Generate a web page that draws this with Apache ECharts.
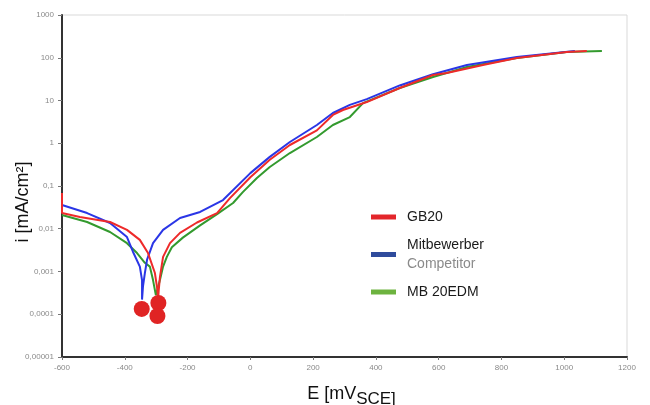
<!DOCTYPE html>
<html>
<head>
<meta charset="utf-8">
<script src="https://cdn.jsdelivr.net/npm/echarts@6/dist/echarts.min.js"></script>
<style>html,body{margin:0;padding:0;background:#fff}#c{width:650px;height:405px}</style>
</head>
<body>
<div id="c"></div>
<script>
// Tick labels
const yTickLabels = ['0,00001','0,0001','0,001','0,01','0,1','1','10','100','1000'];
const xTickLabels = ['-600','-400','-200','0','200','400','600','800','1000','1200'];

// Series: [E (mV), i (mA/cm²)]
const gb20 = [
  [-600,0.0686],[-600,0.0233],[-543,0.0188],[-447,0.0144],[-393,0.0094],[-352,0.0055],
  [-326,0.0027],[-304,0.00092],[-296,0.00037],[-294,0.00022],[-292,0.00035],[-288,0.00074],
  [-278,0.0022],[-256,0.0046],[-224,0.0080],[-170,0.0140],[-106,0.0233],[-65,0.052],
  [0,0.16],[62,0.41],[126,0.91],[212,2.0],[263,4.6],[295,6.0],[371,9.2],[476,19.6],
  [582,39.5],[626,44],[741,67.6],[849,98.6],[1008,136],[1072,144]
];
const mitbewerber = [
  [-600,0.036],[-520,0.0233],[-447,0.0136],[-393,0.0064],[-374,0.0029],[-352,0.0013],
  [-345,0.00063],[-345,0.00022],[-342,0.00045],[-336,0.00092],[-329,0.0019],[-310,0.0046],
  [-278,0.0094],[-224,0.0178],[-160,0.0247],[-87,0.047],[0,0.2],[62,0.48],[126,1.07],
  [212,2.67],[263,5.1],[317,7.9],[371,10.8],[476,22.5],[582,41],[690,67.6],[849,104],[1034,144]
];
const mb20edm = [
  [-600,0.021],[-520,0.0144],[-447,0.0084],[-393,0.0046],[-361,0.0027],[-336,0.0016],
  [-320,0.0013],[-310,0.00063],[-301,0.00028],[-288,0.00063],[-278,0.0013],[-266,0.0022],
  [-250,0.0037],[-215,0.0062],[-160,0.012],[-106,0.022],[-55,0.04],[-24,0.072],[21,0.154],
  [62,0.278],[126,0.59],[212,1.40],[263,2.67],[317,4.1],[359,8.7],[476,19.6],[582,35.5],
  [690,60.8],[849,98.6],[1008,136],[1120,144]
];
// Corrosion-potential markers
const markers = [[-346,0.000133],[-293,0.000183],[-296,0.000091]];
const yTitle = 'i [mA/cm²]';

const FONT = '"Liberation Sans", Arial, Helvetica, sans-serif';
const chart = echarts.init(document.getElementById('c'), null, {renderer:'canvas'});
chart.setOption({
  animation: false,
  backgroundColor: '#fff',
  grid: {left: 62, right: 23, top: 15, bottom: 48, containLabel: false, outerBoundsMode: 'none',
         show: true, borderColor: '#d9d9d9', borderWidth: 1},
  graphic: [{
    type: 'text', x: 23, y: 202, rotation: Math.PI / 2,
    style: {text: yTitle, fontSize: 18, fontFamily: FONT, fill: '#111', align: 'center', verticalAlign: 'middle'}
  }],
  xAxis: {
    type: 'value', min: -600, max: 1200, interval: 200,
    axisLine: {show: true, onZero: false, lineStyle: {color: '#333', width: 2}},
    axisTick: {show: true, length: 3, lineStyle: {color: '#777'}},
    splitLine: {show: false},
    axisLabel: {
      margin: 7, fontSize: 8, color: '#8a8a8a', fontFamily: FONT,
      formatter: v => xTickLabels[Math.round((v + 600) / 200)]
    },
    name: '{a|E [mV}{b|SCE]}',
    nameLocation: 'middle', nameGap: 28,
    nameTextStyle: {
      padding: [0, 0, 0, 14],
      rich: {
        a: {fontSize: 18, color: '#111', fontFamily: FONT, lineHeight: 18},
        b: {fontSize: 17, color: '#111', fontFamily: FONT, lineHeight: 18, padding: [10,0,0,0]}
      }
    }
  },
  yAxis: {
    type: 'log', logBase: 10, min: 0.00001, max: 1000,
    axisLine: {show: true, onZero: false, lineStyle: {color: '#333', width: 2}},
    axisTick: {show: true, length: 4, lineStyle: {color: '#777'}},
    splitLine: {show: false},
    minorTick: {show: false},
    axisLabel: {
      margin: 8, fontSize: 8, color: '#8a8a8a', fontFamily: FONT,
      formatter: v => yTickLabels[Math.round(Math.log10(v)) + 5]
    }
  },
  legend: {
    orient: 'vertical', left: 366, top: 205,
    itemWidth: 25, itemHeight: 5, itemGap: 14, icon: 'rect',
    data: [
      {name: 'GB20', itemStyle: {color: '#e3262b'}},
      {name: 'Mitbewerber', itemStyle: {color: '#2f4b9c'}},
      {name: 'MB 20EDM', itemStyle: {color: '#6db33f'}}
    ],
    formatter: n => n === 'Mitbewerber' ? '{a|Mitbewerber}\n{b|Competitor}' : '{a|' + n + '}',
    textStyle: {
      padding: [0,0,0,6],
      rich: {
        a: {fontSize: 14, color: '#1a1a1a', lineHeight: 19, fontFamily: FONT},
        b: {fontSize: 14, color: '#8a8a8a', lineHeight: 19, fontFamily: FONT}
      }
    }
  },
  series: [
    {name: 'MB 20EDM', type: 'line', data: mb20edm, showSymbol: false, lineStyle: {color: '#339a2e', width: 2}, itemStyle: {color: '#339a2e'}},
    {name: 'Mitbewerber', type: 'line', data: mitbewerber, showSymbol: false, lineStyle: {color: '#2a36e6', width: 2}, itemStyle: {color: '#2a36e6'}},
    {name: 'GB20', type: 'line', data: gb20, showSymbol: false, lineStyle: {color: '#ee2a2a', width: 2}, itemStyle: {color: '#ee2a2a'}},
    {name: 'Ecorr', type: 'scatter', data: markers, symbolSize: 16, itemStyle: {color: '#e02424', opacity: 1}, z: 5}
  ]
});
</script>
</body>
</html>
